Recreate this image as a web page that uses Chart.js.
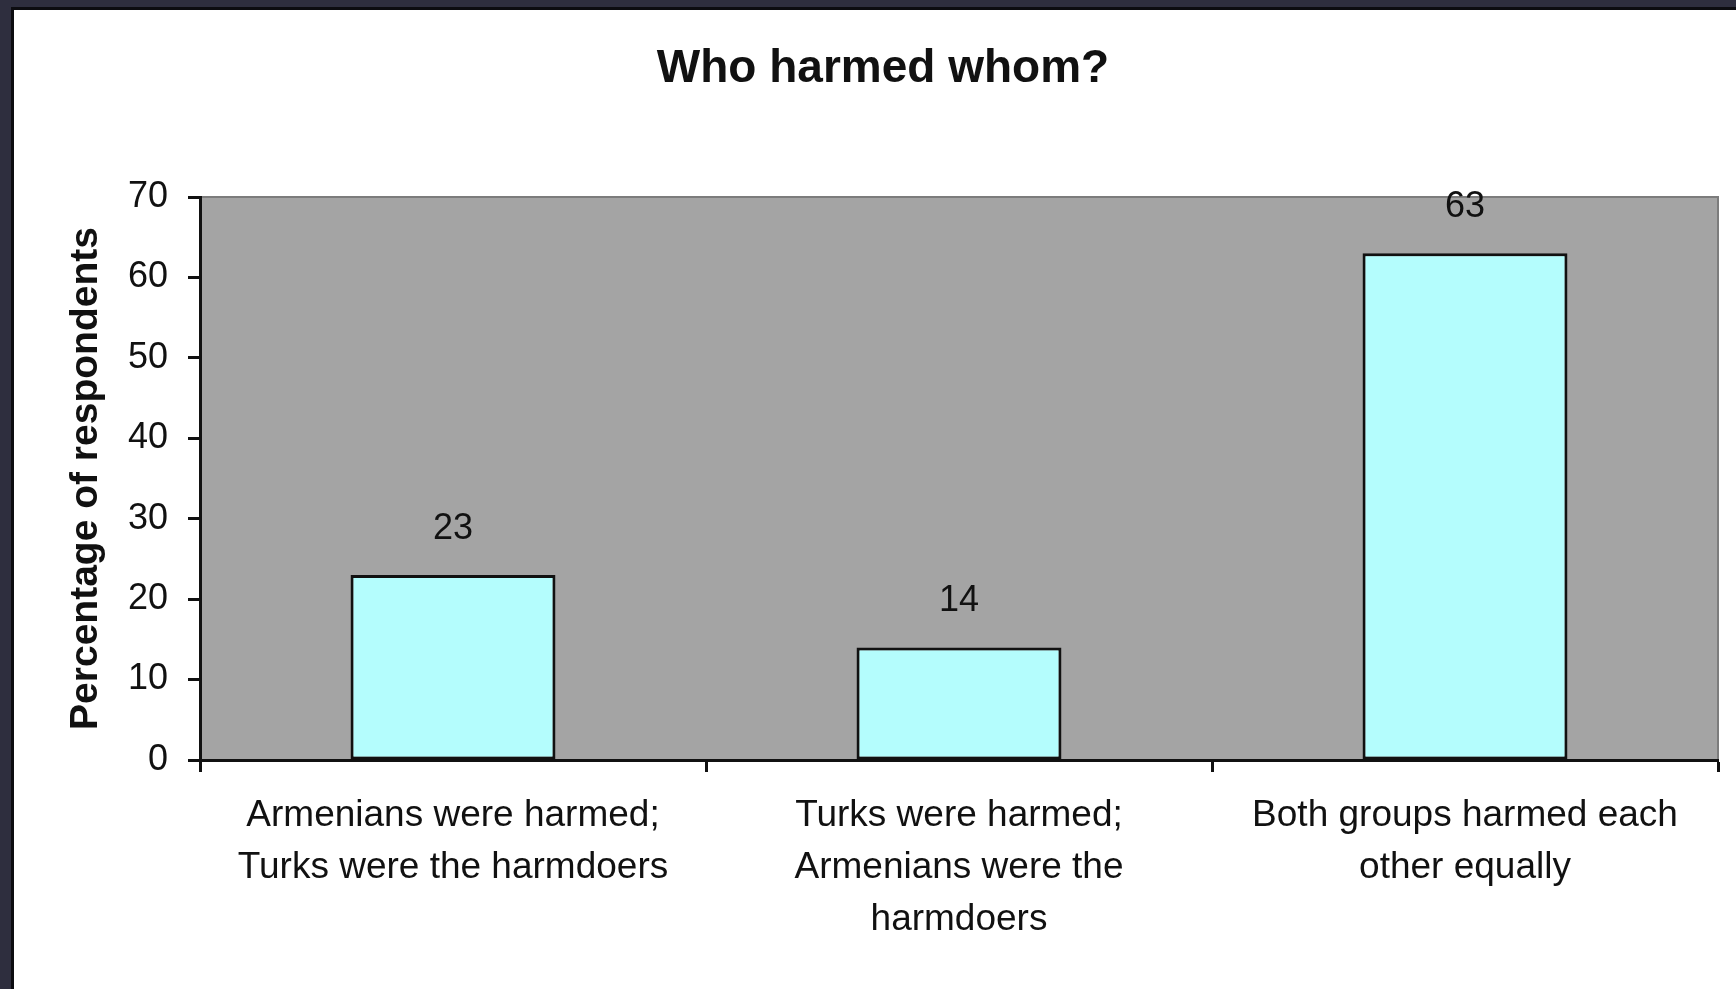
<!DOCTYPE html>
<html>
<head>
<meta charset="utf-8">
<title>Who harmed whom?</title>
<script src="https://cdn.jsdelivr.net/npm/chart.js@4.4.1/dist/chart.umd.min.js"></script>
<style>
  html, body { margin: 0; padding: 0; width: 1736px; height: 989px; overflow: hidden; background: #2e2e3e; }
  #sheet { position: absolute; left: 11px; top: 7px; right: 0; bottom: 0; background: #ffffff;
           border-left: 3px solid #0c0c10; border-top: 3px solid #0c0c10; }
  #chart { position: absolute; left: 0; top: 0; }
</style>
</head>
<body>
<div id="sheet"></div>
<canvas id="chart" width="1736" height="989"></canvas>
<script>
// Survey answers (percentage of respondents)
const categories = [
  ["Armenians were harmed;", "Turks were the harmdoers"],
  ["Turks were harmed;", "Armenians were the", "harmdoers"],
  ["Both groups harmed each", "other equally"]
];
const percentages = [23, 14, 63];
const yTicks = [0, 10, 20, 30, 40, 50, 60, 70];
const chartTitle = "Who harmed whom?";
const yAxisTitle = "Percentage of respondents";

const FONT = "'Liberation Sans', Arial, sans-serif";
const INK = "#111111";

// Grey plot background, thin grey frame on top/right, heading and value labels
const decorations = {
  id: "decorations",
  beforeDraw(chart) {
    const { ctx, chartArea: a } = chart;
    ctx.save();
    ctx.fillStyle = "#a4a4a4";
    ctx.fillRect(a.left, a.top, a.right - a.left, a.bottom - a.top);
    ctx.strokeStyle = "#7c7c7c";
    ctx.lineWidth = 2;
    ctx.beginPath();
    ctx.moveTo(a.left, a.top);
    ctx.lineTo(a.right, a.top);
    ctx.lineTo(a.right, a.bottom);
    ctx.stroke();
    ctx.restore();
  },
  afterDatasetsDraw(chart) {
    const { ctx } = chart;
    const meta = chart.getDatasetMeta(0);
    ctx.save();
    ctx.fillStyle = INK;
    ctx.font = "36px " + FONT;
    ctx.textAlign = "center";
    ctx.textBaseline = "alphabetic";
    meta.data.forEach((bar, i) => {
      ctx.fillText(String(percentages[i]), bar.x, bar.y - 36);
    });
    ctx.font = "bold 46px " + FONT;
    ctx.fillText(chartTitle, 883, 82);
    ctx.restore();
  }
};

new Chart(document.getElementById("chart"), {
  type: "bar",
  data: {
    labels: categories,
    datasets: [{
      data: percentages,
      backgroundColor: "#b4fdfd",
      borderColor: INK,
      borderWidth: 3,
      borderSkipped: false,
      categoryPercentage: 0.405,
      barPercentage: 1.0
    }]
  },
  options: {
    responsive: false,
    devicePixelRatio: 1,
    animation: false,
    layout: { padding: { left: 0, top: 197, right: 18, bottom: 0 } },
    plugins: {
      legend: { display: false },
      tooltip: { enabled: false },
      title: { display: false }
    },
    scales: {
      x: {
        offset: true,
        afterFit(scale) { scale.height = 229; },
        grid: {
          offset: true,
          drawOnChartArea: false,
          drawTicks: true,
          tickLength: 12,
          tickWidth: 3,
          tickColor: INK
        },
        border: { display: true, color: INK, width: 3 },
        ticks: {
          color: INK,
          padding: 18,
          maxRotation: 0,
          autoSkip: false,
          font: { family: FONT, size: 37, lineHeight: 1.4 }
        }
      },
      y: {
        min: 0,
        max: 70,
        afterFit(scale) { scale.width = 200; },
        afterBuildTicks(scale) { scale.ticks = yTicks.map(v => ({ value: v })); },
        grid: {
          drawOnChartArea: false,
          drawTicks: true,
          tickLength: 12,
          tickWidth: 3,
          tickColor: INK
        },
        border: { display: true, color: INK, width: 3 },
        ticks: {
          color: INK,
          padding: 20,
          font: { family: FONT, size: 36 }
        },
        title: {
          display: true,
          text: yAxisTitle,
          color: INK,
          padding: { top: 63, bottom: 0 },
          font: { family: FONT, size: 39, weight: "bold" }
        }
      }
    }
  },
  plugins: [decorations]
});
</script>
</body>
</html>
